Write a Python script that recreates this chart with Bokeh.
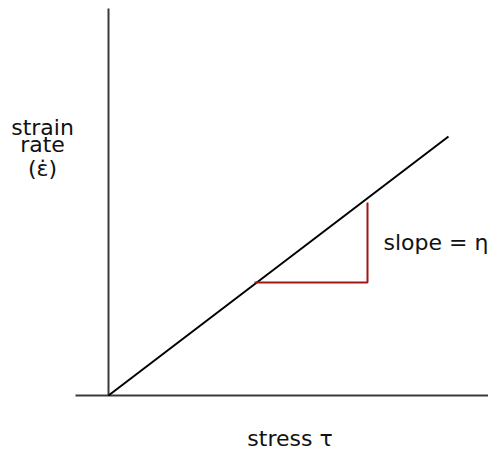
from bokeh.plotting import figure
from bokeh.models import Range1d
from bokeh.core.properties import value
from bokeh.embed import file_html
from bokeh.resources import INLINE

# Axis lines (data units)
yaxis_x = [0, 0]
yaxis_y = [0, 38.7]
xaxis_x = [-3.3, 38.0]
xaxis_y = [0, 0]

# Linear relationship: strain rate vs stress
line_x = [0, 34.0]
line_y = [0, 25.9]

# Slope triangle (red)
tri_x = [14.6, 25.9, 25.9]
tri_y = [11.3, 11.3, 19.3]

# Labels
ylab_text = ["strain", "rate", "(\u03b5\u0307)"]
ylab_x = [-6.6, -6.6, -6.6]
ylab_y = [26.8, 25.1, 22.7]
slope_text = ["slope = \u03b7"]
slope_x = [27.5]
slope_y = [15.3]
xlab_text = ["stress  \u03c4"]
xlab_x = [18.5]
xlab_y = [-4.3]

p = figure(width=488, height=451, output_backend="svg", toolbar_location=None,
           x_range=Range1d(-10.8, 38.0), y_range=Range1d(-5.6, 39.5),
           min_border=0)
p.axis.visible = False
p.grid.visible = False
p.outline_line_color = None
p.background_fill_color = "white"
p.border_fill_color = "white"

p.line(yaxis_x, yaxis_y, line_color="#3a3a3a", line_width=2)
p.line(xaxis_x, xaxis_y, line_color="#3a3a3a", line_width=2)
p.line(line_x, line_y, line_color="black", line_width=2)
p.line(tri_x, tri_y, line_color="#a31515", line_width=2)

font = value("DejaVu Sans")
p.text(ylab_x, ylab_y, text=ylab_text, text_font=font, text_font_size="22px",
       text_align="center", text_baseline="alphabetic", text_color="#111111")
p.text(slope_x, slope_y, text=slope_text, text_font=font, text_font_size="22px",
       text_align="left", text_baseline="alphabetic", text_color="#111111")
p.text(xlab_x, xlab_y, text=xlab_text, text_font=font, text_font_size="22px",
       text_align="center", text_baseline="alphabetic", text_color="#111111")

open("out.html", "w").write(file_html(p, INLINE))
